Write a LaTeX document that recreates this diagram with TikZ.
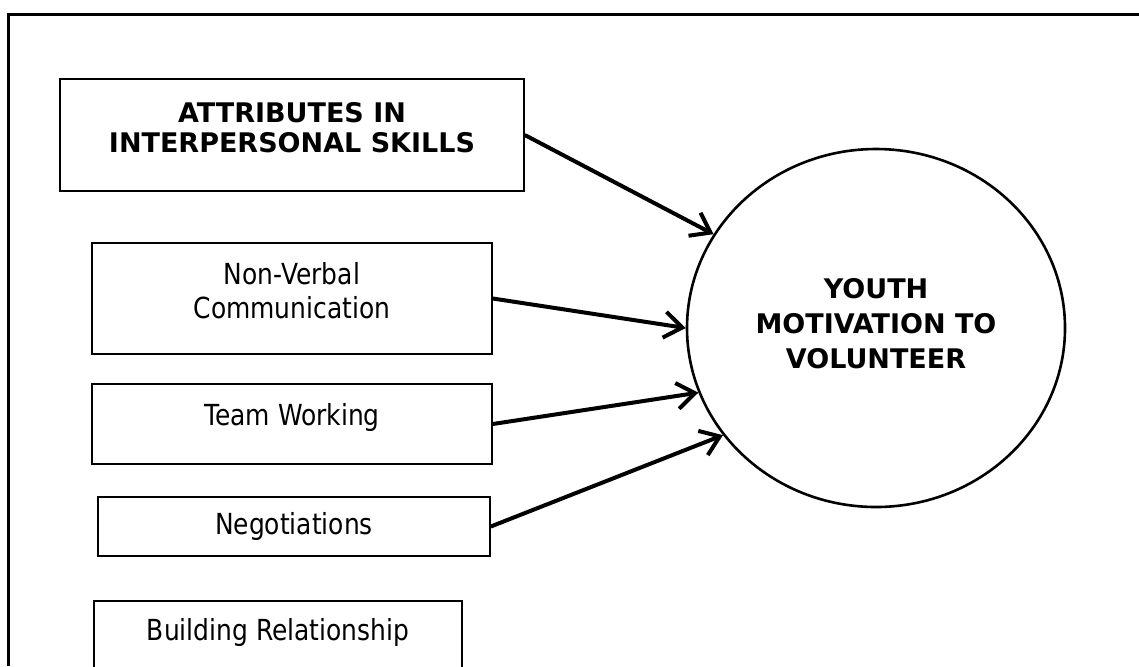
\documentclass[tikz,border=0pt]{standalone}
\usepackage{fontspec}
\setmainfont{DejaVu Sans}
\newfontfamily\narrowfont{DejaVu Sans}[FakeStretch=0.86]
\usetikzlibrary{shapes.geometric,arrows.meta}

\begin{document}
\begin{tikzpicture}[x=0.5pt,y=-0.5pt,
    skillbox/.style={draw,line width=0.8pt,inner sep=0pt,align=center,font=\narrowfont\fontsize{14.5}{17}\selectfont},
    headbox/.style={draw,line width=0.8pt,inner sep=0pt,align=center,font=\bfseries\fontsize{13.5}{15}\selectfont},
    goal/.style={draw,ellipse,line width=1.3pt,inner sep=0pt,align=center,font=\bfseries\fontsize{13.5}{17.5}\selectfont},
    link/.style={line width=2pt,-{Straight Barb[length=9pt,width=13pt]}}]
    \useasboundingbox (0,0) rectangle (1139,666);
    \draw[line width=1.5pt] (8,666) -- (8,14) -- (1139,14);

    \node[headbox,minimum width=232pt,minimum height=56pt,text depth=8pt] (attr) at (292,135) {ATTRIBUTES IN\\INTERPERSONAL SKILLS};
    \node[skillbox,minimum width=200pt,minimum height=55.5pt,text depth=8pt] (nonverbal) at (292,298.5) {Non-Verbal\\Communication};
    \node[skillbox,minimum width=200pt,minimum height=40pt,text depth=9.5pt] (team) at (292,424) {Team Working};
    \node[skillbox,minimum width=196pt,minimum height=29.5pt] (nego) at (294,526.5) {Negotiations};
    \node[skillbox,minimum width=184pt,text height=13pt,text depth=30pt,inner ysep=7pt,anchor=north] (build) at (278,600) {Building Relationship};

    \node[goal,minimum width=189pt,minimum height=179pt,text depth=5pt] (youth) at (876,328) {YOUTH\\MOTIVATION TO\\VOLUNTEER};

    \draw[link] (attr.east) -- (youth.150);
    \draw[link] (nonverbal.east) -- (youth.180);
    \draw[link] (team.east) -- (youth.200);
    \draw[link] (nego.east) -- (youth.215);
\end{tikzpicture}
\end{document}
